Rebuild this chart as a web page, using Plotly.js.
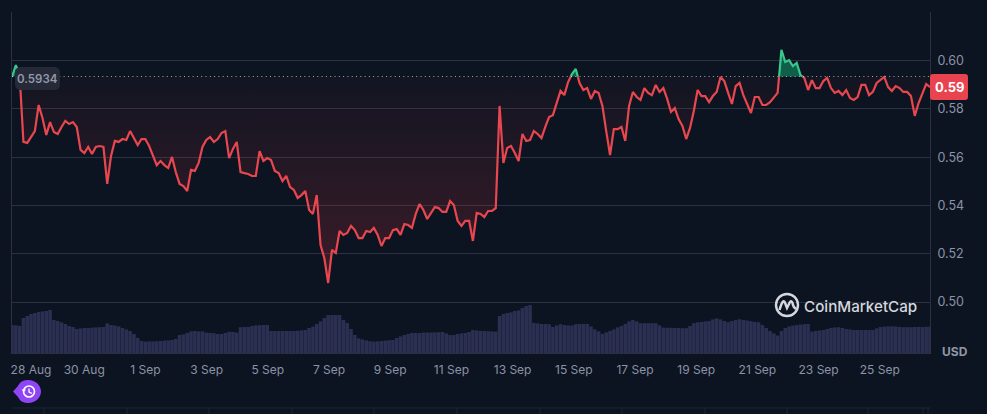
<!DOCTYPE html>
<html>
<head>
<meta charset="utf-8">
<script src="https://cdn.plot.ly/plotly-3.0.1.min.js"></script>
<style>html,body{margin:0;padding:0;background:#0d1421;overflow:hidden}#chart{width:987px;height:414px}</style>
</head>
<body>
<div id="chart"></div>
<script>
const basePrice = 0.5934;
const lastPriceLabel = "0.59";
const basePriceLabel = "0.5934";
const brandName = "CoinMarketCap";
const currency = "USD";
const prices = [
.5932,.5981,.5940,.5663,.5659,.5683,.5708,.5816,.5762,.5692,.5745,.5704,.5696,.5725,.5750,.5737,.5745,.5725,.5630,.5617,
.5642,.5613,.5642,.5646,.5642,.5489,.5605,.5667,.5663,.5675,.5671,.5708,.5679,.5650,.5675,.5675,.5646,.5605,.5567,.5584,
.5567,.5555,.5601,.5538,.5489,.5480,.5460,.5547,.5543,.5576,.5642,.5671,.5683,.5663,.5675,.5700,.5708,.5596,.5634,.5663,
.5538,.5534,.5530,.5522,.5522,.5625,.5584,.5596,.5588,.5543,.5534,.5501,.5522,.5476,.5464,.5431,.5443,.5460,.5381,.5365,
.5443,.5236,.5182,.5079,.5216,.5203,.5294,.5278,.5286,.5315,.5298,.5265,.5265,.5294,.5290,.5307,.5278,.5232,.5265,.5265,
.5298,.5302,.5278,.5323,.5319,.5307,.5365,.5406,.5381,.5344,.5369,.5393,.5389,.5373,.5373,.5418,.5402,.5336,.5315,.5336,
.5336,.5253,.5369,.5365,.5352,.5377,.5377,.5389,.5812,.5576,.5638,.5646,.5617,.5584,.5696,.5667,.5671,.5708,.5696,.5679,
.5725,.5766,.5774,.5828,.5874,.5857,.5911,.5944,.5965,.5907,.5878,.5886,.5841,.5874,.5866,.5812,.5708,.5609,.5716,.5716,
.5725,.5667,.5812,.5870,.5849,.5837,.5886,.5866,.5857,.5899,.5870,.5886,.5841,.5787,.5803,.5758,.5729,.5675,.5721,.5791,
.5878,.5853,.5853,.5828,.5853,.5870,.5932,.5915,.5866,.5820,.5894,.5907,.5857,.5816,.5783,.5849,.5849,.5816,.5816,.5828,
.5845,.5866,.6044,.5994,.6002,.5977,.5990,.5940,.5928,.5878,.5919,.5886,.5886,.5915,.5928,.5886,.5866,.5874,.5857,.5878,
.5845,.5837,.5849,.5899,.5899,.5857,.5870,.5907,.5919,.5932,.5890,.5874,.5894,.5886,.5870,.5870,.5853,.5771,.5824,.5861,
.5903,.5890];
const volumes = [
1.40,1.38,1.35,1.75,1.85,1.95,2.00,2.05,2.08,2.10,2.15,1.65,1.60,1.53,1.45,1.35,1.30,1.20,1.23,1.25,
1.25,1.27,1.28,1.29,1.30,1.48,1.40,1.37,1.33,1.25,1.18,1.10,.95,.75,.60,.57,.58,.58,.59,.60,
.62,.63,.65,.70,.90,.93,1.00,1.08,1.10,1.08,1.08,1.02,1.00,.99,.95,.95,1.00,1.06,1.05,1.02,
1.29,1.30,1.30,1.35,1.38,1.39,1.40,1.40,1.10,1.10,1.10,1.10,1.10,1.10,1.10,1.11,1.13,1.15,1.25,1.32,
1.45,1.58,1.75,1.90,1.90,1.90,1.90,1.65,1.50,1.20,.90,.73,.68,.63,.59,.57,.58,.60,.62,.64,
.65,.75,.83,.90,.95,1.00,1.00,1.00,1.02,1.02,1.03,1.03,1.04,1.05,.98,.90,.90,.95,.98,1.00,
1.05,1.15,1.13,1.10,1.10,1.09,1.08,1.07,1.85,1.95,2.00,2.03,2.10,2.13,2.25,2.35,2.40,1.50,1.48,1.45,
1.45,1.44,1.30,1.38,1.44,1.40,1.38,1.37,1.44,1.45,1.45,1.45,1.33,1.18,1.08,.95,1.03,1.10,1.18,1.28,
1.35,1.45,1.58,1.65,1.58,1.49,1.49,1.49,1.49,1.49,1.38,1.27,1.26,1.26,1.25,1.25,1.24,1.24,1.35,1.49,
1.53,1.55,1.58,1.60,1.68,1.73,1.68,1.60,1.54,1.60,1.65,1.69,1.65,1.62,1.59,1.55,1.54,1.40,1.25,1.10,
.98,.87,1.10,1.25,1.33,1.37,1.40,1.42,1.44,1.45,1.07,1.10,1.13,1.15,1.20,1.25,1.28,1.29,1.25,1.20,
1.18,1.15,1.15,1.15,1.15,1.15,1.15,1.23,1.30,1.32,1.33,1.33,1.33,1.30,1.29,1.29,1.29,1.30,1.30,1.30,
1.31,1.32];
const tickDates = ["2024-08-28 06:18","2024-08-30","2024-09-01","2024-09-03","2024-09-05","2024-09-07","2024-09-09","2024-09-11","2024-09-13","2024-09-15","2024-09-17","2024-09-19","2024-09-21","2024-09-23","2024-09-25"];
const tickLabels = ["28 Aug","30 Aug","1 Sep","3 Sep","5 Sep","7 Sep","9 Sep","11 Sep","13 Sep","15 Sep","17 Sep","19 Sep","21 Sep","23 Sep","25 Sep"];
const priceTicks = [0.50,0.52,0.54,0.56,0.58,0.60,0.62];
const priceTickLabels = ["0.50","0.52","0.54","0.56","0.58","0.60",""];

const startMs = Date.UTC(2024,7,27,15,22);
const spanMs = 30*864e5;
const stepMs = spanMs/(prices.length-1);
const times = prices.map((_,i)=>startMs+i*stepMs);

// split the polyline where it crosses the reference price, so each side gets its own colour
const lx=[],ly=[];
prices.forEach((p,i)=>{
  if(i>0){
    const q=prices[i-1];
    if((q-basePrice)*(p-basePrice)<0){
      const f=(basePrice-q)/(p-q);
      lx.push(times[i-1]+f*stepMs); ly.push(basePrice);
    }
  }
  lx.push(times[i]); ly.push(p);
});
const baseLine=lx.map(()=>basePrice);
const RED='#e8474f', GREEN='#38c78c', GRID='#2b3140', TXT='#8b93a5', BG='#0d1421';
const none={width:0};
const traces=[
 {type:'scatter',mode:'lines',x:lx,y:baseLine,line:none,hoverinfo:'skip',showlegend:false},
 {type:'scatter',mode:'lines',x:lx,y:ly.map(v=>Math.min(v,basePrice)),line:none,fill:'tonexty',
  fillgradient:{type:'vertical',start:0.508,stop:basePrice,colorscale:[[0,'rgba(234,57,67,0.21)'],[1,'rgba(234,57,67,0.025)']]},hoverinfo:'skip',showlegend:false},
 {type:'scatter',mode:'lines',x:lx,y:baseLine,line:none,hoverinfo:'skip',showlegend:false},
 {type:'scatter',mode:'lines',x:lx,y:ly.map(v=>Math.max(v,basePrice)),line:none,fill:'tonexty',fillcolor:'rgba(22,199,132,0.42)',hoverinfo:'skip',showlegend:false},
 {type:'scatter',mode:'lines',x:lx,y:ly.map(v=>v<=basePrice?v:null),line:{color:RED,width:2.2},hoverinfo:'skip',showlegend:false},
 {type:'scatter',mode:'lines',x:lx,y:ly.map(v=>v>=basePrice?v:null),line:{color:GREEN,width:2.2},hoverinfo:'skip',showlegend:false},
 {type:'bar',x:times,y:volumes,yaxis:'y2',marker:{color:'#2b2f52',line:{width:0}},hoverinfo:'skip',showlegend:false}
];

// pixel helpers for the decoration (tags, logo, button) in paper coordinates
const L=12,R=930,T=12,B=353;
const px=x=>(x-L)/(R-L), py=y=>(B-y)/(B-T);
const P=(s)=>s.replace(/(-?[\d.]+) (-?[\d.]+)/g,(m,a,b)=>px(+a).toFixed(5)+','+py(+b).toFixed(5));
const rr=(x0,y0,x1,y1,r)=>P(`M ${x0+r} ${y0} L ${x1-r} ${y0} Q ${x1} ${y0} ${x1} ${y0+r} L ${x1} ${y1-r} Q ${x1} ${y1} ${x1-r} ${y1} L ${x0+r} ${y1} Q ${x0} ${y1} ${x0} ${y1-r} L ${x0} ${y0+r} Q ${x0} ${y0} ${x0+r} ${y0} Z`);
const pap={xref:'paper',yref:'paper'};
const shapes=[
 {type:'line',xref:'paper',x0:0,x1:1,yref:'y',y0:basePrice,y1:basePrice,line:{color:'rgba(255,255,255,0.65)',width:1,dash:'1px,3.3px'},layer:'above'},
 {...pap,type:'path',path:rr(15,67,60,90,6),fillcolor:'#262a38',line:{width:0},layer:'above'},
 {...pap,type:'path',path:rr(930,74,968,100,3),fillcolor:'#e8434f',line:{width:0},layer:'above'},
 // CoinMarketCap mark
 {...pap,type:'circle',x0:px(776),x1:px(798),y0:py(316),y1:py(294),line:{color:'#d5d8df',width:2.4},layer:'above'},
 {...pap,type:'path',path:P('M 779.5 310 Q 781 304 783 301.5 Q 784.5 300.5 785.5 304 L 787 308 L 790 302 Q 791.5 300 792.5 303 Q 793 307 796 309'),line:{color:'#d5d8df',width:2.4},layer:'above'},
 // history button
 {...pap,type:'path',path:P('M 13 391.5 L 18 386 C 20 381.5 24 380 28.5 380 C 35 380 41 385 41 391.5 C 41 398 35 403 28.5 403 C 24 403 20 401.5 18 397 Z'),fillcolor:'#8f45f5',line:{width:0},layer:'above'},
 {...pap,type:'circle',x0:px(23.5),x1:px(34.5),y0:py(397),y1:py(386),line:{color:'#ffffff',width:1.6},layer:'above'},
 {...pap,type:'path',path:P('M 29 388.5 L 29 392 L 32 393.5'),line:{color:'#ffffff',width:1.3},layer:'above'},
 {...pap,type:'path',path:P('M 21.5 389.5 L 24 392 L 26 389.5 Z'),fillcolor:'#ffffff',line:{width:0},layer:'above'},
 // faint strip below the chart
 {...pap,type:'line',x0:px(12),x1:px(930),y0:py(408),y1:py(408),line:{color:'#1e2433',width:1}},
 ...[44,127,209,292,374,457,540,622,705,787,868,923,928].map(x=>({...pap,type:'line',x0:px(x),x1:px(x),y0:py(408),y1:py(414),line:{color:'#1e2433',width:1}}))
];
const font='Inter, "Noto Sans", sans-serif';
const ann=(x,y,text,size,color,weight)=>({xref:'paper',yref:'paper',x:px(x),y:py(y),text,showarrow:false,xanchor:'center',yanchor:'middle',font:{family:font,size,color,weight:weight||400}});
const layout={
 width:987,height:414,margin:{l:L,r:987-R,t:T,b:414-B,pad:0},
 paper_bgcolor:BG,plot_bgcolor:BG,showlegend:false,bargap:0.07,barmode:'overlay',
 font:{family:font,color:TXT},
 xaxis:{type:'date',range:[startMs,startMs+spanMs],tickmode:'array',tickvals:tickDates,ticktext:tickLabels,showgrid:false,zeroline:false,
   showline:true,linecolor:GRID,linewidth:1,ticks:'',tickfont:{family:font,size:12,color:TXT},tickangle:0,ticklabelstandoff:6},
 yaxis:{side:'right',range:[0.4789,0.6201],tickmode:'array',tickvals:priceTicks,ticktext:priceTickLabels,gridcolor:GRID,gridwidth:1,zeroline:false,
   showline:true,mirror:true,linecolor:GRID,linewidth:1,ticks:'',tickfont:{family:font,size:12.5,color:TXT},ticklabelstandoff:4},
 yaxis2:{overlaying:'y',range:[0,17.05],visible:false,showgrid:false,zeroline:false,fixedrange:true},
 shapes,
 annotations:[
  ann(37.5,78.5,basePriceLabel,11.5,'#9299a8',600),
  ann(949,87,lastPriceLabel,13,'#ffffff',700),
  ann(955.5,351,currency,12,'#8f96a6',700),
  ann(860.5,306,brandName,15.2,'#d5d8df',500)
 ]
};
Plotly.newPlot('chart',traces,layout,{staticPlot:true,displayModeBar:false});
</script>
</body>
</html>
